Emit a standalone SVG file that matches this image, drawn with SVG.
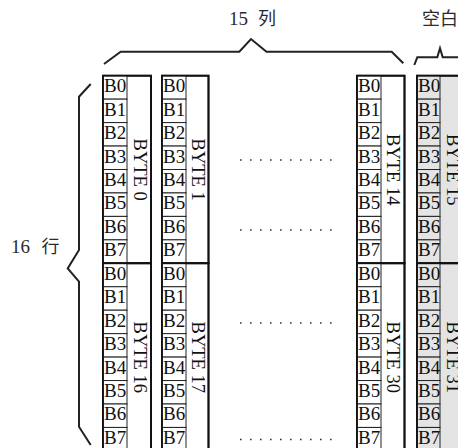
<svg xmlns="http://www.w3.org/2000/svg" width="458" height="448" viewBox="0 0 458 448">
<style>
.outer{fill:#fff;stroke:#111;stroke-width:1.8}
.gray{fill:#e4e4e4}
.cell{fill:#fff;stroke:#222;stroke-width:1}
.gcell{fill:#e4e4e4;stroke:#222;stroke-width:1}
.b{font-family:"Liberation Serif",serif;font-size:19px;fill:#111}
.byte{font-family:"Liberation Serif",serif;font-size:18.5px;fill:#111;text-anchor:middle}
.lbl{font-family:"Liberation Serif","Noto Sans CJK SC",serif;font-size:19px;fill:#2a2a33}
.cjk{font-family:"Noto Sans CJK SC",sans-serif;font-size:18px;fill:#2a2a33}
.brace{fill:none;stroke:#222;stroke-width:2;stroke-linejoin:miter}
.dots{stroke:#334;stroke-width:1.6;stroke-dasharray:1.6 8.4}
</style>
<rect width="458" height="448" fill="#fff"/>

<g id="labels">
<text class="lbl" x="229" y="25">15<tspan class="cjk" x="258">列</tspan></text>
<text class="cjk" x="422" y="25">空白</text>
<text class="lbl" x="11" y="253">16<tspan class="cjk" x="41.5">行</tspan></text>
</g>

<g id="connectors">
<polyline class="brace" points="104,64 120.7,51.7 239.3,51.7 251,39 266.5,51.7 391.7,51.7 403.3,63.3"/>
<polyline class="brace" points="414.3,65 417.3,57.3 437.3,57.3 440,48.3 442.7,57.3 460,57.3"/>
<polyline class="brace" points="90.7,84 79,96.7 79,250 67.7,268.5 79,281.7 79,426.7 90.7,445"/>
<line class="dots" x1="240" y1="160" x2="335" y2="160"/>
<line class="dots" x1="240" y1="230" x2="335" y2="230"/>
<line class="dots" x1="240" y1="323" x2="335" y2="323"/>
<line class="dots" x1="240" y1="439.5" x2="335" y2="439.5"/>
</g>

<!-- BYTE 0 -->
<g id="byte0" transform="translate(103,75.7)">
<rect class="outer" x="0" y="0" width="48" height="187.6"/>
<rect class="cell" x="0" y="0" width="24" height="23.45"/>
<rect class="cell" x="0" y="23.45" width="24" height="23.45"/>
<rect class="cell" x="0" y="46.9" width="24" height="23.45"/>
<rect class="cell" x="0" y="70.35" width="24" height="23.45"/>
<rect class="cell" x="0" y="93.8" width="24" height="23.45"/>
<rect class="cell" x="0" y="117.25" width="24" height="23.45"/>
<rect class="cell" x="0" y="140.7" width="24" height="23.45"/>
<rect class="cell" x="0" y="164.15" width="24" height="23.45"/>
<text class="b" x="1" y="16.5">B0</text>
<text class="b" x="1" y="39.95">B1</text>
<text class="b" x="1" y="63.4">B2</text>
<text class="b" x="1" y="86.85">B3</text>
<text class="b" x="1" y="110.3">B4</text>
<text class="b" x="1" y="133.75">B5</text>
<text class="b" x="1" y="157.2">B6</text>
<text class="b" x="1" y="180.65">B7</text>
<rect x="0" y="0" width="48" height="187.6" fill="none" stroke="#111" stroke-width="1.8"/>
<text class="byte" transform="translate(30.5,94) rotate(90)">BYTE 0</text>
</g>

<!-- BYTE 1 -->
<g id="byte1" transform="translate(162,75.7)">
<rect class="outer" x="0" y="0" width="46.5" height="187.6"/>
<rect class="cell" x="0" y="0" width="24" height="23.45"/>
<rect class="cell" x="0" y="23.45" width="24" height="23.45"/>
<rect class="cell" x="0" y="46.9" width="24" height="23.45"/>
<rect class="cell" x="0" y="70.35" width="24" height="23.45"/>
<rect class="cell" x="0" y="93.8" width="24" height="23.45"/>
<rect class="cell" x="0" y="117.25" width="24" height="23.45"/>
<rect class="cell" x="0" y="140.7" width="24" height="23.45"/>
<rect class="cell" x="0" y="164.15" width="24" height="23.45"/>
<text class="b" x="1" y="16.5">B0</text>
<text class="b" x="1" y="39.95">B1</text>
<text class="b" x="1" y="63.4">B2</text>
<text class="b" x="1" y="86.85">B3</text>
<text class="b" x="1" y="110.3">B4</text>
<text class="b" x="1" y="133.75">B5</text>
<text class="b" x="1" y="157.2">B6</text>
<text class="b" x="1" y="180.65">B7</text>
<rect x="0" y="0" width="46.5" height="187.6" fill="none" stroke="#111" stroke-width="1.8"/>
<text class="byte" transform="translate(29.5,94) rotate(90)">BYTE 1</text>
</g>

<!-- BYTE 14 -->
<g id="byte14" transform="translate(357,75.7)">
<rect class="outer" x="0" y="0" width="47.5" height="187.6"/>
<rect class="cell" x="0" y="0" width="24" height="23.45"/>
<rect class="cell" x="0" y="23.45" width="24" height="23.45"/>
<rect class="cell" x="0" y="46.9" width="24" height="23.45"/>
<rect class="cell" x="0" y="70.35" width="24" height="23.45"/>
<rect class="cell" x="0" y="93.8" width="24" height="23.45"/>
<rect class="cell" x="0" y="117.25" width="24" height="23.45"/>
<rect class="cell" x="0" y="140.7" width="24" height="23.45"/>
<rect class="cell" x="0" y="164.15" width="24" height="23.45"/>
<text class="b" x="1" y="16.5">B0</text>
<text class="b" x="1" y="39.95">B1</text>
<text class="b" x="1" y="63.4">B2</text>
<text class="b" x="1" y="86.85">B3</text>
<text class="b" x="1" y="110.3">B4</text>
<text class="b" x="1" y="133.75">B5</text>
<text class="b" x="1" y="157.2">B6</text>
<text class="b" x="1" y="180.65">B7</text>
<rect x="0" y="0" width="47.5" height="187.6" fill="none" stroke="#111" stroke-width="1.8"/>
<text class="byte" transform="translate(30,94) rotate(90)">BYTE 14</text>
</g>

<!-- BYTE 15 -->
<g id="byte15" transform="translate(417,75.7)">
<rect class="outer gray" x="0" y="0" width="60" height="187.6"/>
<rect class="gcell" x="0" y="0" width="23" height="23.45"/>
<rect class="gcell" x="0" y="23.45" width="23" height="23.45"/>
<rect class="gcell" x="0" y="46.9" width="23" height="23.45"/>
<rect class="gcell" x="0" y="70.35" width="23" height="23.45"/>
<rect class="gcell" x="0" y="93.8" width="23" height="23.45"/>
<rect class="gcell" x="0" y="117.25" width="23" height="23.45"/>
<rect class="gcell" x="0" y="140.7" width="23" height="23.45"/>
<rect class="gcell" x="0" y="164.15" width="23" height="23.45"/>
<text class="b" x="1" y="16.5">B0</text>
<text class="b" x="1" y="39.95">B1</text>
<text class="b" x="1" y="63.4">B2</text>
<text class="b" x="1" y="86.85">B3</text>
<text class="b" x="1" y="110.3">B4</text>
<text class="b" x="1" y="133.75">B5</text>
<text class="b" x="1" y="157.2">B6</text>
<text class="b" x="1" y="180.65">B7</text>
<rect x="0" y="0" width="60" height="187.6" fill="none" stroke="#111" stroke-width="1.8"/>
<text class="byte" transform="translate(29.5,94) rotate(90)">BYTE 15</text>
</g>

<!-- BYTE 16 -->
<g id="byte16" transform="translate(103,263.3)">
<rect class="outer" x="0" y="0" width="48" height="187.6"/>
<rect class="cell" x="0" y="0" width="24" height="23.45"/>
<rect class="cell" x="0" y="23.45" width="24" height="23.45"/>
<rect class="cell" x="0" y="46.9" width="24" height="23.45"/>
<rect class="cell" x="0" y="70.35" width="24" height="23.45"/>
<rect class="cell" x="0" y="93.8" width="24" height="23.45"/>
<rect class="cell" x="0" y="117.25" width="24" height="23.45"/>
<rect class="cell" x="0" y="140.7" width="24" height="23.45"/>
<rect class="cell" x="0" y="164.15" width="24" height="23.45"/>
<text class="b" x="1" y="16.5">B0</text>
<text class="b" x="1" y="39.95">B1</text>
<text class="b" x="1" y="63.4">B2</text>
<text class="b" x="1" y="86.85">B3</text>
<text class="b" x="1" y="110.3">B4</text>
<text class="b" x="1" y="133.75">B5</text>
<text class="b" x="1" y="157.2">B6</text>
<text class="b" x="1" y="180.65">B7</text>
<rect x="0" y="0" width="48" height="187.6" fill="none" stroke="#111" stroke-width="1.8"/>
<text class="byte" transform="translate(30.5,94) rotate(90)">BYTE 16</text>
</g>

<!-- BYTE 17 -->
<g id="byte17" transform="translate(162,263.3)">
<rect class="outer" x="0" y="0" width="46.5" height="187.6"/>
<rect class="cell" x="0" y="0" width="24" height="23.45"/>
<rect class="cell" x="0" y="23.45" width="24" height="23.45"/>
<rect class="cell" x="0" y="46.9" width="24" height="23.45"/>
<rect class="cell" x="0" y="70.35" width="24" height="23.45"/>
<rect class="cell" x="0" y="93.8" width="24" height="23.45"/>
<rect class="cell" x="0" y="117.25" width="24" height="23.45"/>
<rect class="cell" x="0" y="140.7" width="24" height="23.45"/>
<rect class="cell" x="0" y="164.15" width="24" height="23.45"/>
<text class="b" x="1" y="16.5">B0</text>
<text class="b" x="1" y="39.95">B1</text>
<text class="b" x="1" y="63.4">B2</text>
<text class="b" x="1" y="86.85">B3</text>
<text class="b" x="1" y="110.3">B4</text>
<text class="b" x="1" y="133.75">B5</text>
<text class="b" x="1" y="157.2">B6</text>
<text class="b" x="1" y="180.65">B7</text>
<rect x="0" y="0" width="46.5" height="187.6" fill="none" stroke="#111" stroke-width="1.8"/>
<text class="byte" transform="translate(29.5,94) rotate(90)">BYTE 17</text>
</g>

<!-- BYTE 30 -->
<g id="byte30" transform="translate(357,263.3)">
<rect class="outer" x="0" y="0" width="47.5" height="187.6"/>
<rect class="cell" x="0" y="0" width="24" height="23.45"/>
<rect class="cell" x="0" y="23.45" width="24" height="23.45"/>
<rect class="cell" x="0" y="46.9" width="24" height="23.45"/>
<rect class="cell" x="0" y="70.35" width="24" height="23.45"/>
<rect class="cell" x="0" y="93.8" width="24" height="23.45"/>
<rect class="cell" x="0" y="117.25" width="24" height="23.45"/>
<rect class="cell" x="0" y="140.7" width="24" height="23.45"/>
<rect class="cell" x="0" y="164.15" width="24" height="23.45"/>
<text class="b" x="1" y="16.5">B0</text>
<text class="b" x="1" y="39.95">B1</text>
<text class="b" x="1" y="63.4">B2</text>
<text class="b" x="1" y="86.85">B3</text>
<text class="b" x="1" y="110.3">B4</text>
<text class="b" x="1" y="133.75">B5</text>
<text class="b" x="1" y="157.2">B6</text>
<text class="b" x="1" y="180.65">B7</text>
<rect x="0" y="0" width="47.5" height="187.6" fill="none" stroke="#111" stroke-width="1.8"/>
<text class="byte" transform="translate(30,94) rotate(90)">BYTE 30</text>
</g>

<!-- BYTE 31 -->
<g id="byte31" transform="translate(417,263.3)">
<rect class="outer gray" x="0" y="0" width="60" height="187.6"/>
<rect class="gcell" x="0" y="0" width="23" height="23.45"/>
<rect class="gcell" x="0" y="23.45" width="23" height="23.45"/>
<rect class="gcell" x="0" y="46.9" width="23" height="23.45"/>
<rect class="gcell" x="0" y="70.35" width="23" height="23.45"/>
<rect class="gcell" x="0" y="93.8" width="23" height="23.45"/>
<rect class="gcell" x="0" y="117.25" width="23" height="23.45"/>
<rect class="gcell" x="0" y="140.7" width="23" height="23.45"/>
<rect class="gcell" x="0" y="164.15" width="23" height="23.45"/>
<text class="b" x="1" y="16.5">B0</text>
<text class="b" x="1" y="39.95">B1</text>
<text class="b" x="1" y="63.4">B2</text>
<text class="b" x="1" y="86.85">B3</text>
<text class="b" x="1" y="110.3">B4</text>
<text class="b" x="1" y="133.75">B5</text>
<text class="b" x="1" y="157.2">B6</text>
<text class="b" x="1" y="180.65">B7</text>
<rect x="0" y="0" width="60" height="187.6" fill="none" stroke="#111" stroke-width="1.8"/>
<text class="byte" transform="translate(29.5,94) rotate(90)">BYTE 31</text>
</g>
</svg>
